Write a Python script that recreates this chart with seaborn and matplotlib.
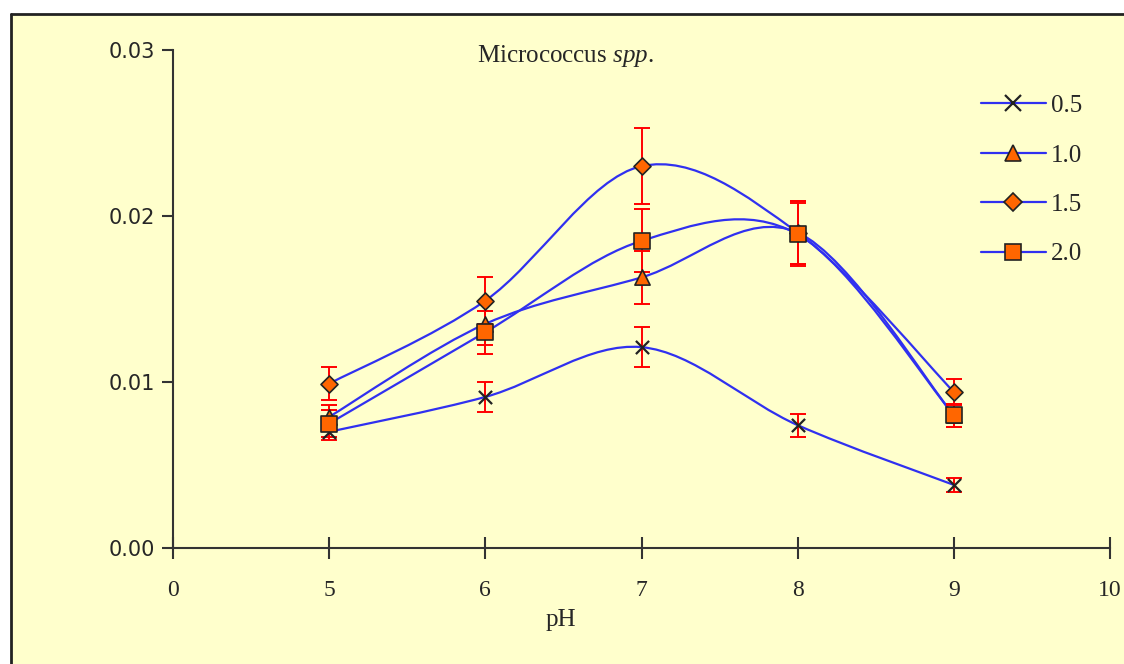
import numpy as np
import matplotlib
matplotlib.use("Agg")
import matplotlib.pyplot as plt
from matplotlib.path import Path
from matplotlib.patches import PathPatch, Rectangle
from matplotlib.lines import Line2D
import seaborn as sns

# ---- data ----
ph = [5, 6, 7, 8, 9]
series_labels = ["0.5", "1.0", "1.5", "2.0"]
v05 = [0.0070, 0.0091, 0.0121, 0.0074, 0.0038]
e05 = [0.0005, 0.0009, 0.0012, 0.0007, 0.0004]
v10 = [0.0079, 0.0135, 0.0163, 0.0190, 0.0080]
e10 = [0.0007, 0.0013, 0.0016, 0.0019, 0.0007]
v15 = [0.0099, 0.0149, 0.0230, 0.0190, 0.0094]
e15 = [0.0010, 0.0014, 0.0023, 0.0019, 0.0008]
v20 = [0.0075, 0.0130, 0.0185, 0.0189, 0.0080]
e20 = [0.0008, 0.0013, 0.0019, 0.0019, 0.0007]
x_ticks = [0, 5, 6, 7, 8, 9, 10]          # category axis (evenly spaced labels)
y_ticks = [0.00, 0.01, 0.02, 0.03]
y_ticklabels = ["0.00", "0.01", "0.02", "0.03"]

sns.set_theme(style="white")
BG = "#FFFFCC"
plt.rcParams["font.family"] = ["Liberation Serif", "DejaVu Serif"]
plt.rcParams["mathtext.fontset"] = "custom"
plt.rcParams["mathtext.rm"] = "Liberation Serif"
plt.rcParams["mathtext.it"] = "Liberation Serif:italic"

fig = plt.figure(figsize=(11.24, 6.64), dpi=100, facecolor=BG)
ax = fig.add_axes([173 / 1124, 1 - 548 / 664, (1110 - 173) / 1124, (548 - 50) / 664])
ax.set_facecolor(BG)

# category positions of the pH values on the axis
xpos = [x_ticks.index(p) for p in ph]

LINE = "#3030F0"
ORANGE = "#FF6600"
EDGE = "#222222"
styles = [
    dict(marker="x", s=90, color=EDGE, linewidth=1.6),
    dict(marker="^", s=120, color=ORANGE, edgecolor=EDGE, linewidth=1.2),
    dict(marker="D", s=75, color=ORANGE, edgecolor=EDGE, linewidth=1.2),
    dict(marker="s", s=135, color=ORANGE, edgecolor=EDGE, linewidth=1.2),
]
vals = [v05, v10, v15, v20]
errs = [e05, e10, e15, e20]


def smooth_path(xs, ys):
    pts = np.column_stack([xs, ys]).astype(float)
    n = len(pts)
    verts = [pts[0]]
    codes = [Path.MOVETO]
    for i in range(n - 1):
        p0 = pts[i - 1] if i > 0 else pts[i]
        p1 = pts[i]
        p2 = pts[i + 1]
        p3 = pts[i + 2] if i + 2 < n else pts[i + 1]
        c1 = p1 + (p2 - p0) / 6.0
        c2 = p2 - (p3 - p1) / 6.0
        verts += [c1, c2, p2]
        codes += [Path.CURVE4] * 3
    return Path(verts, codes)


for v in vals:
    ax.add_patch(PathPatch(smooth_path(xpos, v), facecolor="none", edgecolor=LINE,
                           linewidth=1.6, zorder=2))

for v, e in zip(vals, errs):
    ax.errorbar(xpos, v, yerr=e, fmt="none", ecolor="#FF0000", elinewidth=1.4,
                capsize=6, capthick=1.4, zorder=3)

for v, st in zip(vals, styles):
    sns.scatterplot(x=xpos, y=v, ax=ax, zorder=4, legend=False, **st)

ax.set_xlim(0, len(x_ticks) - 1)
ax.set_ylim(0, 0.03)
ax.set_xticks(range(len(x_ticks)))
ax.set_xticklabels([str(t) for t in x_ticks], fontsize=17)
ax.set_yticks(y_ticks)
ax.set_yticklabels(y_ticklabels, fontsize=15, family="DejaVu Sans")
ax.tick_params(axis="x", bottom=True, direction="inout", length=16, width=1.5,
               color="#333333", pad=15)
ax.tick_params(axis="y", left=True, direction="out", length=8, width=1.5,
               color="#333333", pad=5)
for sp in ["top", "right"]:
    ax.spines[sp].set_visible(False)
for sp in ["left", "bottom"]:
    ax.spines[sp].set_color("#333333")
    ax.spines[sp].set_linewidth(1.5)
ax.set_xlabel("pH", fontsize=18)
ax.xaxis.set_label_coords((561 - 173) / 937, -(620 - 548) / 498)
ax.xaxis.label.set_va("center")

ax.text((565 - 173) / 937, 1 + 7 / 498, "Micrococcus $\\mathit{spp.}$", transform=ax.transAxes,
        ha="center", va="top", fontsize=18)

handles = []
for st, lab in zip(styles, series_labels):
    if st["marker"] == "x":
        h = Line2D([], [], color=LINE, linewidth=1.6, marker="x", markersize=11,
                   markeredgecolor=EDGE, markeredgewidth=1.6, label=lab)
    else:
        h = Line2D([], [], color=LINE, linewidth=1.6, marker=st["marker"],
                   markersize=np.sqrt(st["s"]), markerfacecolor=ORANGE,
                   markeredgecolor=EDGE, markeredgewidth=1.2, label=lab)
    handles.append(h)
leg = ax.legend(handles=handles, loc="upper left", bbox_to_anchor=(958 / 1124, 1 - 72 / 664),
                bbox_transform=fig.transFigure, frameon=False, fontsize=18,
                handlelength=2.6, labelspacing=1.08, handletextpad=0.2)

# chart-area border remnants (top and left)
fig.add_artist(Line2D([11 / 1124, 1], [1 - 14 / 664, 1 - 14 / 664], transform=fig.transFigure,
                      color="#222222", linewidth=2))
fig.add_artist(Line2D([11 / 1124, 11 / 1124], [0, 1 - 14 / 664], transform=fig.transFigure,
                      color="#222222", linewidth=2))
fig.patches.append(Rectangle((0, 1 - 14 / 664), 1, 14 / 664, transform=fig.transFigure,
                             facecolor="white", edgecolor="none", zorder=-1))
fig.patches.append(Rectangle((0, 0), 11 / 1124, 1, transform=fig.transFigure,
                             facecolor="white", edgecolor="none", zorder=-1))

fig.savefig("out.png", dpi=100, facecolor=BG)
